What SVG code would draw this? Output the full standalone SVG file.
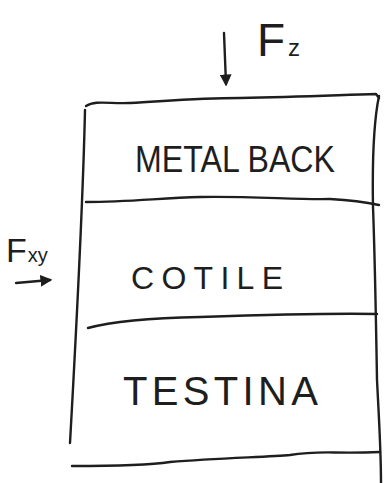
<svg xmlns="http://www.w3.org/2000/svg" width="390" height="483" viewBox="0 0 390 483">
<defs>
<style>
.ink{fill:none;stroke:#1e1e1e;stroke-width:2.4;stroke-linecap:round;stroke-linejoin:round}
.lbl{font-family:"Liberation Sans","DejaVu Sans",sans-serif;fill:#1e1e1e;font-weight:normal}
</style>
<marker id="ah" viewBox="0 0 10 10" refX="8" refY="5" markerWidth="5" markerHeight="5" orient="auto" markerUnits="strokeWidth">
<path d="M0,0 L10,5 L0,10 Z" fill="#1e1e1e"/>
</marker>
</defs>
<rect width="390" height="483" fill="#ffffff"/>
<g id="outline">
<path class="ink" d="M86,106 C95,100 110,104 130,103 C180,100 200,98 240,98 C300,97 340,95 376,94 L379,98"/>
<path class="ink" d="M379,96 C374,120 372,150 373,207 C375,260 376,320 377,380 C379,420 381,450 381,483"/>
<path class="ink" d="M85,110 C83,200 78,300 70,443"/>
<path class="ink" d="M72,466 C110,466 150,465 170,462 C220,458 270,457 290,455 C320,450 330,454 380,452"/>
</g>
<g id="metal-back">
<text class="lbl" x="135" y="172" font-size="36" textLength="200" lengthAdjust="spacingAndGlyphs">METAL BACK</text>
</g>
<g id="divider-1">
<path class="ink" d="M86,202 C130,202 160,198 200,197 C250,196 300,200 330,199 C350,200 370,203 379,205"/>
</g>
<g id="cotile">
<text class="lbl" x="131" y="289" font-size="32" textLength="152" lengthAdjust="spacing">COTILE</text>
</g>
<g id="divider-2">
<path class="ink" d="M88,328 C110,322 150,318 200,317 C260,315 330,313 377,314"/>
</g>
<g id="testina">
<text class="lbl" x="123" y="405" font-size="40" textLength="195" lengthAdjust="spacing">TESTINA</text>
</g>
<g id="force-z">
<text class="lbl" x="257" y="56" font-size="46">F<tspan font-size="24" dx="3">z</tspan></text>
</g>
<g id="force-xy">
<text class="lbl" x="6" y="262" font-size="34">F<tspan font-size="20" dx="1">xy</tspan></text>
</g>
<g id="connectors">
<path class="ink" d="M224,33 L226,84" marker-end="url(#ah)"/>
<path class="ink" d="M16,283 L50,280" marker-end="url(#ah)"/>
</g>
</svg>
